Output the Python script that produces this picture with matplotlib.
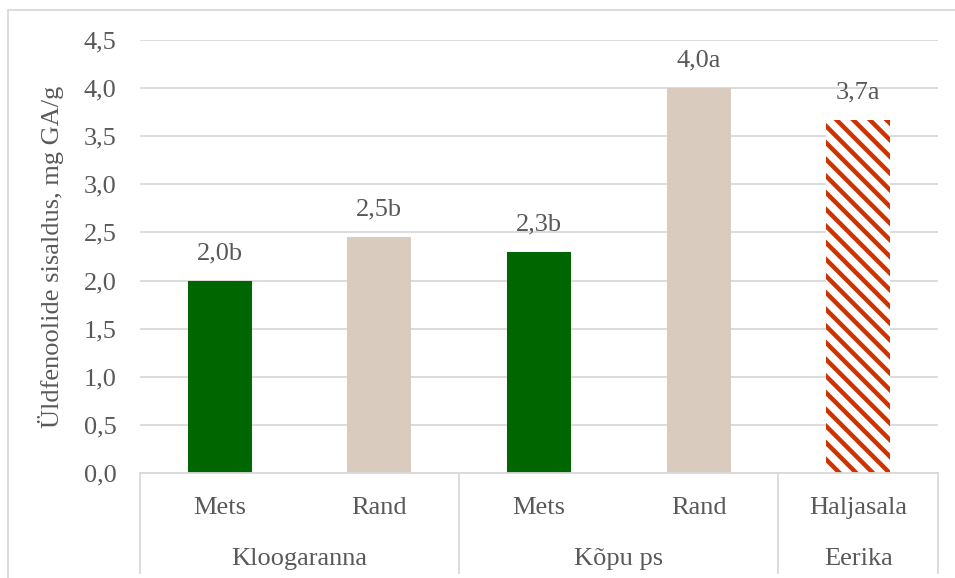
import matplotlib.pyplot as plt
from matplotlib.patches import Rectangle

# andmed
subcats = ["Mets", "Rand", "Mets", "Rand", "Haljasala"]
groups = ["Kloogaranna", "Kõpu ps", "Eerika"]
group_sizes = [2, 2, 1]
values = [2.0, 2.45, 2.3, 4.0, 3.67]
labels = ["2,0b", "2,5b", "2,3b", "4,0a", "3,7a"]
colors = ["#006600", "#D9CCBE", "#006600", "#D9CCBE", "white"]

plt.rcParams["font.family"] = "serif"
plt.rcParams["font.serif"] = ["Liberation Serif", "Times New Roman", "DejaVu Serif"]
plt.rcParams["hatch.linewidth"] = 3.2
txt = "#595959"
grid = "#D9D9D9"
fs = 19

fig = plt.figure(figsize=(9.55, 5.78), dpi=100)
ax = fig.add_axes([140 / 955, 1 - 473 / 578, 798 / 955, 433 / 578])

x = range(len(values))
for i in x:
    if i == 4:
        ax.bar(i, values[i], width=0.4, color="white", edgecolor="#CC3300",
               hatch="\\\\", linewidth=0, zorder=2)
    else:
        ax.bar(i, values[i], width=0.4, color=colors[i], zorder=2)
    ax.text(i, values[i] + 0.17, labels[i], ha="center", va="bottom",
            fontsize=fs, color=txt)

ax.set_xlim(-0.5, 4.5)
ax.set_ylim(0, 4.5)
ax.set_yticks([i * 0.5 for i in range(10)])
ax.set_yticklabels([f"{i * 0.5:.1f}".replace(".", ",") for i in range(10)])
ax.tick_params(axis="y", length=0, pad=17, labelsize=fs, labelcolor=txt)
ax.set_xticks([])
ax.grid(axis="y", color=grid, linewidth=1.3, zorder=0)
for s in ["top", "right", "left"]:
    ax.spines[s].set_visible(False)
ax.spines["bottom"].set_color(grid)
ax.spines["bottom"].set_linewidth(1.3)

ax.set_ylabel("Üldfenoolide sisaldus, mg GA/g", fontsize=fs, color=txt)
ax.yaxis.set_label_coords(-0.095, 0.5)

# kategooriate teljed
tr = ax.get_xaxis_transform()
for i, s in enumerate(subcats):
    ax.text(i, -0.08, s, transform=tr, ha="center", va="center",
            fontsize=fs, color=txt)
start = 0
seps = [-0.5]
for g, n in zip(groups, group_sizes):
    mid = start + (n - 1) / 2
    ax.text(mid, -0.198, g, transform=tr, ha="center", va="center",
            fontsize=fs, color=txt)
    start += n
    seps.append(start - 0.5)
for sx in seps:
    ax.plot([sx, sx], [0, -0.23], transform=tr, color=grid, lw=1.3,
            clip_on=False)

# välimine raam
fig.patches.append(Rectangle((8 / 955, -0.1), 1.2, 1 - 10 / 578 + 0.1,
                             transform=fig.transFigure, fill=False,
                             edgecolor=grid, linewidth=1.3))

fig.savefig("out.png", dpi=100)
